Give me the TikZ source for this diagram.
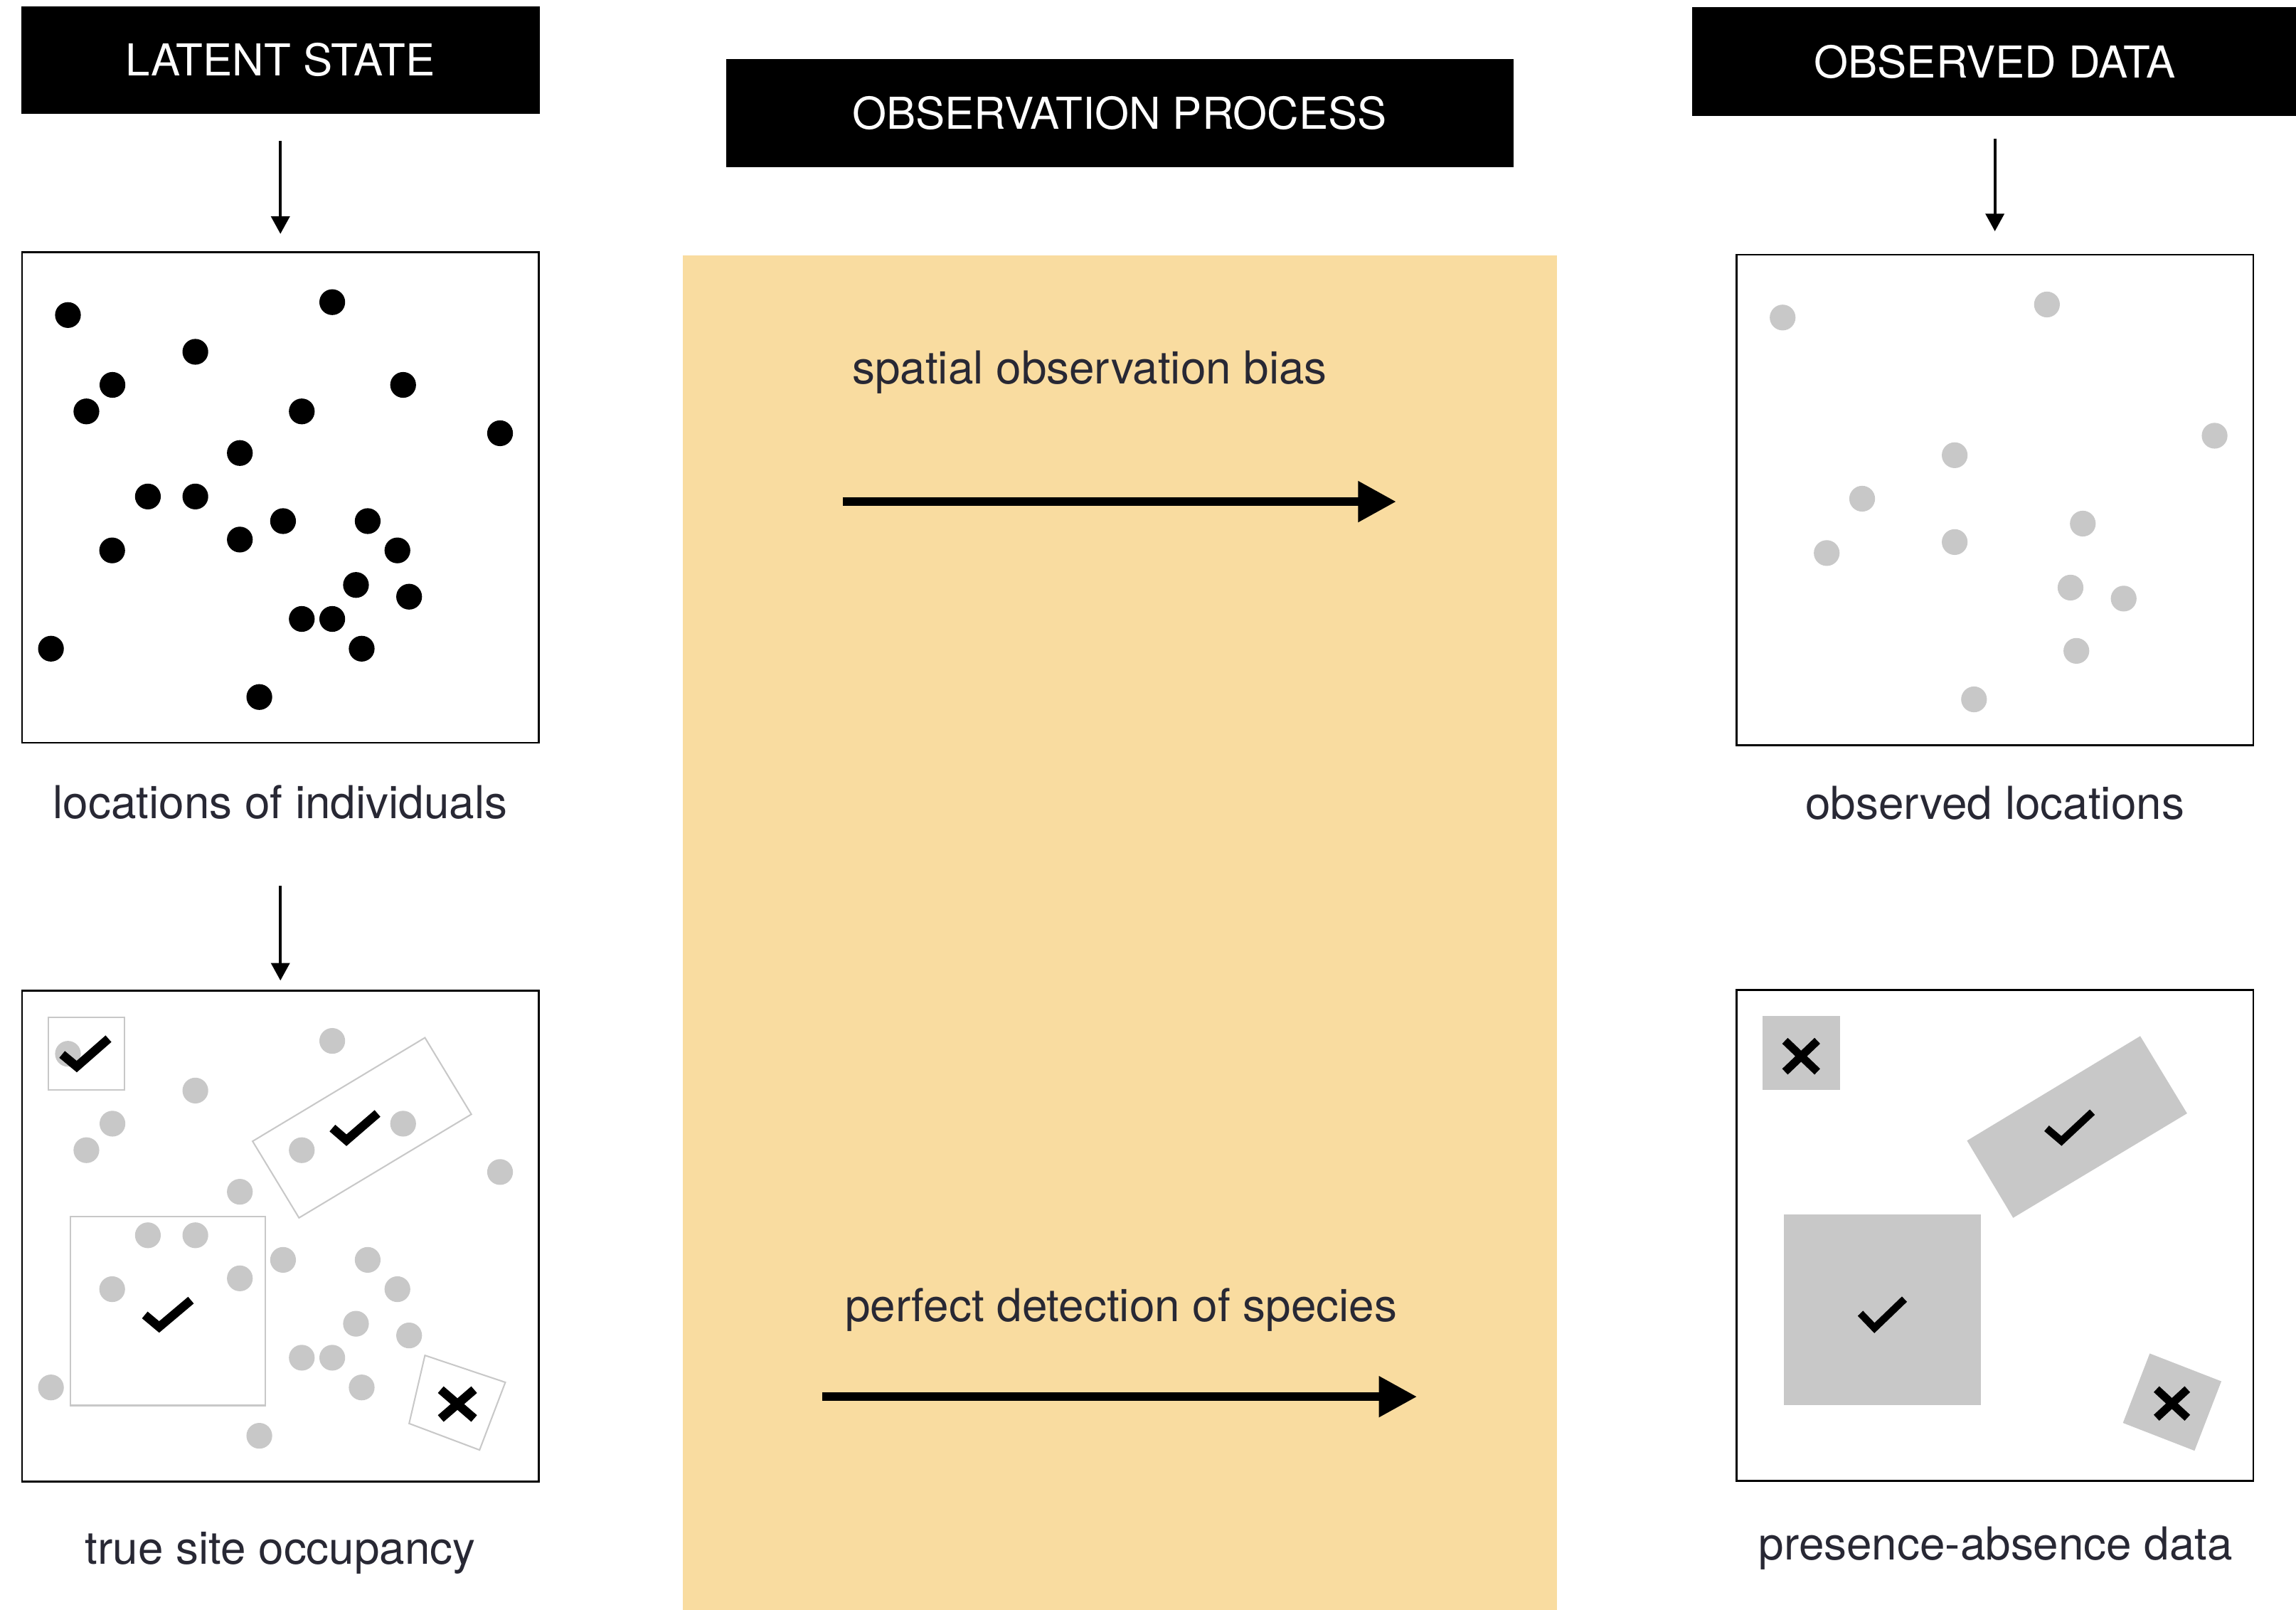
\documentclass[tikz,border=0pt]{standalone}
\usepackage{fontspec}
\setmainfont{TeX Gyre Heros}
\usetikzlibrary{arrows.meta}
\definecolor{txt}{RGB}{40,40,52}
\definecolor{dotgray}{RGB}{200,200,200}
\definecolor{sand}{RGB}{249,220,160}
\begin{document}
\begin{tikzpicture}[x=1pt,y=-1pt,
  hdr/.style={fill=black,text=white,inner sep=0pt,font=\fontsize{30}{36}\selectfont},
  panel/.style={draw=black,line width=1.2pt,inner sep=0pt,minimum width=353pt,minimum height=335pt},
  lbl/.style={text=txt,inner sep=0pt,anchor=base,font=\fontsize{31}{37}\selectfont},
  dn/.style={line width=1.9pt,-{Triangle[length=12pt,width=12.6pt]}},
  bigarr/.style={line width=6pt,-{Triangle[length=26pt,width=26.5pt]}},
  bdot/.style={fill=black},
  gdot/.style={fill=dotgray},
  site/.style={draw=dotgray,line width=1pt},
  sitefill/.style={fill=dotgray},
  tick/.style={line width=6pt,miter limit=10},
  cross/.style={line width=6pt}
]
\useasboundingbox (0,0) rectangle (1568,1099);

% yellow observation-process band
\fill[sand] (466.1,174.5) rectangle (1063.3,1100);

% headers
\node[hdr,minimum width=354pt,minimum height=73.4pt] (latent) at (191.5,41) {LATENT STATE};
\node[hdr,minimum width=537.7pt,minimum height=73.6pt] (obsproc) at (764.65,77.2) {OBSERVATION PROCESS};
\node[hdr,minimum width=413.7pt,minimum height=74pt] (obsdata) at (1362.35,42.1) {OBSERVED DATA};

% panels
\node[panel] (p1) at (191.5,339.6) {};
\node[panel] (p2) at (191.5,844) {};
\node[panel,minimum width=352.9pt,minimum height=335.1pt] (p3) at (1362.35,341.35) {};
\node[panel,minimum width=352.9pt,minimum height=335.2pt] (p4) at (1362.35,843.5) {};

% top-left: locations of individuals (black)
\foreach \x/\y in {46.4/215.1,226.9/206.3,133.4/240.2,76.8/262.8,275.3/262.8,59/280.9,206.1/280.9,341.5/295.8,163.8/309.3,101/339,133.4/339,193.3/355.8,251.1/355.8,163.8/368.4,76.6/375.8,271.4/375.8,243.1/399.4,279.4/407.4,206.1/422.6,226.9/422.6,34.8/442.9,247/442.9,177.1/475.9}
  \fill[bdot] (\x,\y) circle[radius=8.8pt];

% bottom-left: same individuals in grey
\foreach \x/\y in {46.4/215.1,226.9/206.3,133.4/240.2,76.8/262.8,275.3/262.8,59/280.9,206.1/280.9,341.5/295.8,163.8/309.3,101/339,133.4/339,193.3/355.8,251.1/355.8,163.8/368.4,76.6/375.8,271.4/375.8,243.1/399.4,279.4/407.4,206.1/422.6,226.9/422.6,34.8/442.9,247/442.9,177.1/475.9}
  \fill[gdot] (\x,\y+504.4) circle[radius=8.8pt];

% sites (outlines)
\draw[site] (33.1,694.6) rectangle (85.1,744.3);
\draw[site] (172.5,779.2) -- (290.2,708.5) -- (321.9,760.8) -- (204.2,831.5) -- cycle;
\draw[site] (48.1,830.5) rectangle (181.2,959.6);
\draw[site] (290.2,925.4) -- (345.1,943.8) -- (327.5,990) -- (279.4,971.9) -- cycle;
% marks
\draw[tick] (42.4,719.9) -- (52.4,728.2) -- (74.1,709.2);
\draw[tick] (227,770.2) -- (236.6,778.5) -- (257.8,760.2);
\draw[tick] (98.9,897.8) -- (108.7,906) -- (130.4,887.7);
\draw[cross] (301,948.8) -- (323.8,968.5) (323.8,948.8) -- (301,968.5);

% top-right: observed locations (grey)
\foreach \x/\y in {1217.4/216.8,1397.9/207.9,1512.4/297.5,1334.9/310.8,1271.7/340.5,1247.5/377.6,1334.9/370.1,1422.4/357.5,1414/401.2,1450.3/408.7,1418/444.4,1348.1/477.5}
  \fill[gdot] (\x,\y) circle[radius=8.8pt];

% bottom-right: presence-absence
\fill[sitefill] (1203.7,693.5) rectangle (1256.4,744.3);
\fill[sitefill] (1343.3,778.8) -- (1461.6,707.4) -- (1493.6,760.2) -- (1374.8,831.5) -- cycle;
\fill[sitefill] (1218.2,829.3) rectangle (1352.7,959.5);
\fill[sitefill] (1468.1,924.1) -- (1517,943.1) -- (1498.7,990.5) -- (1449.8,971.5) -- cycle;
\draw[cross,line width=5.5pt] (1219,710.6) -- (1241.1,731.7) (1241.1,710.6) -- (1219,731.7);
\draw[tick,line width=5pt] (1397.7,770.4) -- (1407.8,779) -- (1428.9,759.3);
\draw[tick,line width=5pt] (1270.5,896.7) -- (1280.1,906.7) -- (1300.6,887);
\draw[cross,line width=5.5pt] (1472.7,948.5) -- (1493.8,968) (1493.8,948.5) -- (1472.7,968);

% labels
\node[lbl] (l1) at (191.4,559) {locations of individuals};
\node[lbl] (l2) at (191.5,1068) {true site occupancy};
\node[lbl] (l3) at (1362.3,559.4) {observed locations};
\node[lbl] (l4) at (1363,1065.1) {presence-absence data};
\node[lbl,anchor=base west] (t1) at (581.9,262.3) {spatial observation bias};
\node[lbl,anchor=base west] (t2) at (576.9,902.2) {perfect detection of species};

% vertical arrows
\draw[dn,shorten <=18.2pt,shorten >=11.8pt] (latent) -- (p1);
\coordinate (a2) at (191.5,604.9);
\draw[dn,shorten >=6.4pt] (a2) -- (p2.north);
\draw[dn,shorten <=15.3pt,shorten >=15.3pt] (obsdata) -- (p3);

% process arrows
\coordinate (b1s) at (575.6,342.5);
\coordinate (b1e) at (953.5,342.5);
\draw[bigarr] (b1s) -- (b1e);
\coordinate (b2s) at (561.4,953.6);
\coordinate (b2e) at (967.7,953.6);
\draw[bigarr] (b2s) -- (b2e);
\end{tikzpicture}
\end{document}
